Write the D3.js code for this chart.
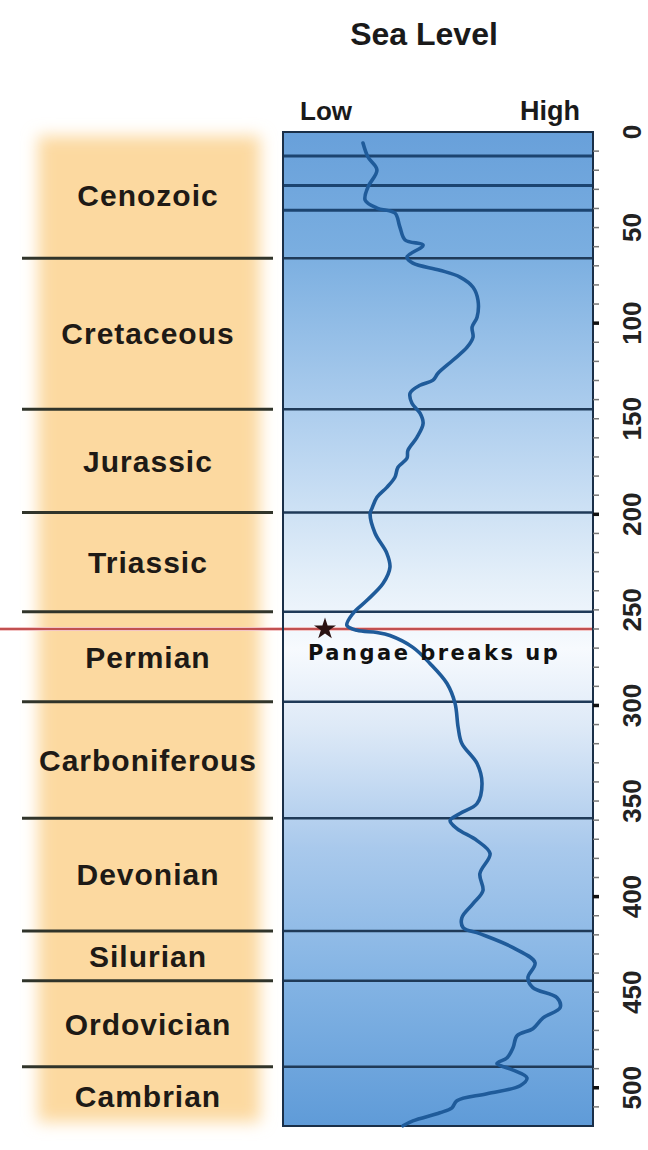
<!DOCTYPE html>
<html>
<head>
<meta charset="utf-8">
<script src="https://cdn.jsdelivr.net/npm/d3@7"></script>
<style>
  body { margin: 0; background: #fff; }
  svg { display: block; font-family: "Liberation Sans", Arial, sans-serif; }
</style>
</head>
<body>
<svg id="chart" width="648" height="1150"></svg>
<script>
// sea level curve: age (Ma) and relative level (0 = low, 100 = high)
var ages = [5.8, 13.1, 19.9, 28.8, 35.6, 39.8, 42.4, 49.7, 56.5, 59.2, 65.4, 68.6, 72.3, 75.9,
  81.2, 88.0, 96.9, 102.1, 107.3, 112.6, 119.4, 126.2, 129.8, 132.5, 136.6, 141.9, 147.1,
  152.4, 159.7, 166.5, 170.7, 175.4, 180.6, 185.9, 191.1, 196.9, 199.5, 209.9, 220.4, 227.7,
  236.1, 245.0, 251.8, 258.1, 260.7, 261.8, 263.4, 269.6, 278.0, 288.5, 298.9, 311.5, 319.9,
  330.4, 340.8, 351.3, 356.5, 360.2, 364.4, 370.7, 377.5, 388.0, 396.9, 403.7, 411.0, 416.2,
  419.4, 426.7, 434.6, 442.4, 447.6, 452.9, 458.1, 463.4, 469.1, 472.8, 479.1, 484.3, 487.4,
  490.1, 494.8, 498.9, 503.1, 506.8, 510.5, 513.1, 517.3, 519.9];
var levels = [25.8, 27.4, 30.3, 27.4, 26.5, 30.3, 36.1, 37.7, 39.4, 45.2, 40.0, 41.9, 50.6, 57.1,
  61.3, 62.9, 62.6, 61.0, 61.3, 59.4, 54.8, 50.0, 48.4, 44.2, 41.0, 41.6, 44.2,
  45.2, 43.2, 40.3, 40.0, 37.1, 36.1, 33.5, 30.3, 28.7, 28.1, 29.7, 33.5, 34.5,
  32.3, 27.1, 22.6, 20.6, 23.9, 30.3, 34.5, 41.9, 47.4, 52.9, 55.5, 56.5, 57.7,
  62.6, 64.2, 62.6, 57.1, 53.9, 56.1, 62.6, 66.8, 63.5, 64.5, 61.3, 57.7, 58.1,
  63.5, 74.2, 81.3, 79.0, 80.6, 88.4, 89.4, 83.9, 80.6, 75.5, 74.2, 72.3, 69.0,
  73.2, 78.7, 76.5, 65.8, 56.1, 54.5, 50.6, 41.9, 38.7];

var periods = ["Cenozoic", "Cretaceous", "Jurassic", "Triassic", "Permian", "Carboniferous",
  "Devonian", "Silurian", "Ordovician", "Cambrian"];
var periodBounds = [0, 66, 145, 199, 251, 298, 359, 418, 444, 489, 520];
var cenozoicLines = [12.5, 28, 41];
var ageTicks = [0, 50, 100, 150, 200, 250, 300, 350, 400, 450, 500];
var eventAge = 260;
var eventLabel = "Pangae breaks up";

var svg = d3.select("#chart");

var y = d3.scaleLinear().domain([0, 520]).range([132, 1126]);
var x = d3.scaleLinear().domain([0, 100]).range([283, 593]);

var defs = svg.append("defs");

var grad = defs.append("linearGradient")
    .attr("id", "sea")
    .attr("x1", 0).attr("y1", 0).attr("x2", 0).attr("y2", 1);
[[0, "#68a0da"], [0.12, "#7aaee0"], [0.3, "#b3d1ef"], [0.45, "#e4eff9"], [0.52, "#f7fafe"],
 [0.6, "#dde9f7"], [0.72, "#a9c9ec"], [0.85, "#84b4e4"], [1, "#5f9bd8"]].forEach(function(s) {
  grad.append("stop").attr("offset", s[0]).attr("stop-color", s[1]);
});

defs.append("filter")
    .attr("id", "soft")
    .attr("x", "-20%").attr("y", "-5%").attr("width", "140%").attr("height", "110%")
  .append("feGaussianBlur")
    .attr("stdDeviation", 8);

// orange period column
svg.append("rect")
    .attr("x", 38)
    .attr("y", y(0) + 4)
    .attr("width", 222)
    .attr("height", y(520) - y(0) - 8)
    .attr("fill", "#fcd9a0")
    .attr("filter", "url(#soft)");

// sea level panel
svg.append("rect")
    .attr("x", x(0))
    .attr("y", y(0))
    .attr("width", x(100) - x(0))
    .attr("height", y(520) - y(0))
    .attr("fill", "url(#sea)");

// period boundaries, left column
svg.append("g")
    .attr("stroke", "#30342a")
    .attr("stroke-width", 3)
  .selectAll("line")
  .data(periodBounds.slice(1, -1))
  .join("line")
    .attr("x1", 22)
    .attr("x2", 273)
    .attr("y1", function(d) { return y(d); })
    .attr("y2", function(d) { return y(d); });

// period boundaries, panel
svg.append("g")
    .attr("stroke", "#1f3a58")
    .attr("stroke-width", 2.5)
  .selectAll("line")
  .data(periodBounds.slice(1, -1))
  .join("line")
    .attr("x1", x(0))
    .attr("x2", x(100))
    .attr("y1", function(d) { return y(d); })
    .attr("y2", function(d) { return y(d); });

svg.append("g")
    .attr("stroke", "#1c4470")
    .attr("stroke-width", 3)
  .selectAll("line")
  .data(cenozoicLines)
  .join("line")
    .attr("x1", x(0))
    .attr("x2", x(100))
    .attr("y1", function(d) { return y(d); })
    .attr("y2", function(d) { return y(d); });

// red event line
svg.append("line")
    .attr("x1", 0)
    .attr("x2", x(100))
    .attr("y1", y(eventAge))
    .attr("y2", y(eventAge))
    .attr("stroke", "#f3c4c4")
    .attr("stroke-width", 4);
svg.append("line")
    .attr("x1", 0)
    .attr("x2", x(100))
    .attr("y1", y(eventAge))
    .attr("y2", y(eventAge))
    .attr("stroke", "#b02a2a")
    .attr("stroke-width", 1.5);

// panel border
svg.append("rect")
    .attr("x", x(0))
    .attr("y", y(0))
    .attr("width", x(100) - x(0))
    .attr("height", y(520) - y(0))
    .attr("fill", "none")
    .attr("stroke", "#1a2f48")
    .attr("stroke-width", 2);

// sea level curve
var line = d3.line()
    .x(function(d) { return x(d[1]); })
    .y(function(d) { return y(d[0]); })
    .curve(d3.curveCatmullRom);

svg.append("path")
    .datum(d3.zip(ages, levels))
    .attr("fill", "none")
    .attr("stroke", "#1f5b9a")
    .attr("stroke-width", 3.6)
    .attr("stroke-linejoin", "round")
    .attr("stroke-linecap", "round")
    .attr("d", line);

// event marker
svg.append("path")
    .attr("d", d3.symbol().type(d3.symbolStar).size(150))
    .attr("transform", "translate(" + 325 + "," + y(eventAge) + ")")
    .attr("fill", "#2a1212");

svg.append("text")
    .attr("x", 308)
    .attr("y", y(eventAge) + 31)
    .style("font-family", "'DejaVu Sans', Verdana, sans-serif")
    .style("font-weight", "bold")
    .style("font-size", "21px")
    .style("letter-spacing", "2.5px")
    .attr("fill", "#111")
    .text(eventLabel);

// age axis on the right
var axis = svg.append("g");
axis.selectAll("line")
  .data(d3.range(10, 520, 10))
  .join("line")
    .attr("x1", x(100))
    .attr("x2", x(100) + 6)
    .attr("y1", function(d) { return y(d); })
    .attr("y2", function(d) { return y(d); })
    .attr("stroke", function(d) { return d % 100 === 0 ? "#111" : "#777"; })
    .attr("stroke-width", function(d) { return d % 100 === 0 ? 3.5 : 1.5; });

axis.selectAll("text")
  .data(ageTicks)
  .join("text")
    .attr("transform", function(d) { return "translate(641," + y(d) + ") rotate(-90)"; })
    .attr("text-anchor", "middle")
    .style("font-weight", "bold")
    .style("font-size", "26px")
    .attr("fill", "#222")
    .text(function(d) { return d; });

// period labels
svg.append("g")
  .selectAll("text")
  .data(periods)
  .join("text")
    .attr("x", 148)
    .attr("y", function(d, i) { return (y(periodBounds[i]) + y(periodBounds[i + 1])) / 2; })
    .attr("dy", "0.36em")
    .attr("text-anchor", "middle")
    .style("font-weight", "bold")
    .style("font-size", "30px")
    .style("letter-spacing", "1px")
    .attr("fill", "#1e1a16")
    .text(function(d) { return d; });

// titles
svg.append("text")
    .attr("x", 424)
    .attr("y", 45)
    .attr("text-anchor", "middle")
    .style("font-weight", "bold")
    .style("font-size", "32px")
    .attr("fill", "#1a1a1a")
    .text("Sea Level");

svg.append("text")
    .attr("x", 300)
    .attr("y", 120)
    .style("font-weight", "bold")
    .style("font-size", "26px")
    .attr("fill", "#1a1a1a")
    .text("Low");

svg.append("text")
    .attr("x", 580)
    .attr("y", 120)
    .attr("text-anchor", "end")
    .style("font-weight", "bold")
    .style("font-size", "27px")
    .attr("fill", "#1a1a1a")
    .text("High");
</script>
</body>
</html>
